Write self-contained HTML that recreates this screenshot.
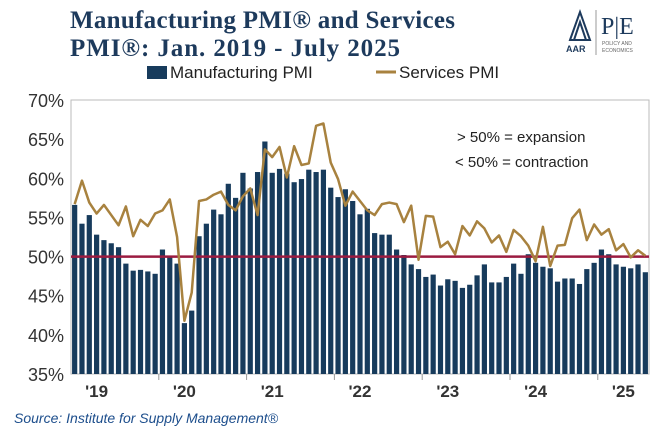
<!DOCTYPE html>
<html><head><meta charset="utf-8"><style>
body{margin:0;width:660px;height:435px;background:#fff;overflow:hidden;font-family:"Liberation Sans",sans-serif}
svg{position:absolute;left:0;top:0}
</style></head><body>
<svg width="660" height="435">
<text x="70" y="28" font-family="Liberation Serif,serif" font-weight="bold" font-size="25" fill="#1d3a5c" textLength="385">Manufacturing PMI® and Services</text>
<text x="70" y="56" font-family="Liberation Serif,serif" font-weight="bold" font-size="25" fill="#1d3a5c" textLength="330">PMI®: Jan. 2019 - July 2025</text>
<g>
<path d="M570 40 L580 12 L590 40 Z M574 40 L580 22 L586 40" fill="none" stroke="#1d3a5c" stroke-width="2"/>
<text x="566" y="52" font-size="9" font-weight="bold" fill="#1d3a5c">AAR</text>
<line x1="596" y1="10" x2="596" y2="55" stroke="#999"/>
<text x="601" y="34" font-family="Liberation Serif,serif" font-size="24" fill="#1d3a5c">P|E</text>
<text x="602" y="45" font-size="5" fill="#666">POLICY AND</text>
<text x="602" y="52" font-size="5" fill="#666">ECONOMICS</text>
</g>
<g>
<rect x="147" y="66" width="20" height="13" fill="#173b5c"/>
<text x="170" y="78" font-size="17" fill="#222">Manufacturing PMI</text>
<line x1="376" y1="72" x2="396" y2="72" stroke="#a8823f" stroke-width="3"/>
<text x="399" y="78" font-size="17" fill="#222">Services PMI</text>
</g>
<rect x="71" y="100" width="578" height="274" fill="none" stroke="#bbb"/>
<g id="yaxis"></g><g id="bars"></g><g id="ref"></g><g id="line"></g><g id="xaxis"></g>
<text x="457" y="142" font-size="15" fill="#222">&gt; 50% = expansion</text>
<text x="455" y="167" font-size="15" fill="#222">&lt; 50% = contraction</text>
<text x="14" y="423" font-size="14" font-style="italic" fill="#1d4e8c">Source: Institute for Supply Management®</text>
</svg>
<script>
const yTicks=[35,40,45,50,55,60,65,70];
const yearLabels=["'19","'20","'21","'22","'23","'24","'25"];
const manufacturing=[56.6,54.2,55.3,52.8,52.1,51.7,51.2,49.1,48.2,48.3,48.1,47.8,
50.9,50.1,49.1,41.5,43.1,52.6,54.2,56.0,55.4,59.3,57.5,60.7,
58.7,60.8,64.7,60.7,61.2,60.6,59.5,59.9,61.1,60.8,61.1,58.8,
57.6,58.6,57.1,55.4,56.1,53.0,52.8,52.8,50.9,50.2,49.0,48.4,
47.4,47.7,46.3,47.1,46.9,46.0,46.4,47.6,49.0,46.7,46.7,47.4,
49.1,47.8,50.3,49.2,48.7,48.5,46.8,47.2,47.2,46.5,48.4,49.2,
50.9,50.3,49.0,48.7,48.5,49.0,48.0];
const services=[56.7,59.7,56.9,55.5,56.6,55.3,54.0,56.4,52.6,54.7,53.9,55.5,
55.9,57.3,52.5,41.8,45.4,57.1,57.3,57.9,58.3,56.6,55.9,57.7,
58.7,55.3,63.7,62.7,64.0,60.1,64.1,61.7,61.9,66.7,67.0,62.0,
59.9,56.5,58.3,57.1,55.9,55.3,56.7,56.9,56.7,54.4,56.5,49.6,
55.2,55.1,51.2,51.9,50.3,53.9,52.7,54.5,53.6,51.8,52.7,50.6,
53.4,52.6,51.4,49.4,53.8,48.8,51.4,51.5,54.9,56.0,52.1,54.1,
52.8,53.5,50.8,51.6,49.9,50.8,50.1];
const NS="http://www.w3.org/2000/svg";
const x0=71,x1=649,yTop=100,yBot=374,n=manufacturing.length,step=(x1-x0)/n;
function y(v){return yBot-(v-35)/(70-35)*(yBot-yTop);}
function xc(i){return x0+step*(i+0.5);}
function mk(t,a,p){const e=document.createElementNS(NS,t);for(const k in a)e.setAttribute(k,a[k]);document.getElementById(p).appendChild(e);return e;}
yTicks.forEach(v=>{
 const t=mk('text',{x:64,y:y(v)+7,'text-anchor':'end','font-size':18,fill:'#333'},'yaxis');t.textContent=v+'%';
 
 
});
manufacturing.forEach((v,i)=>{
 const r=mk('rect',{x:xc(i)-2.6,y:y(v),width:5.2,height:yBot-y(v),fill:'#173b5c'},'bars');
 
 
});
const rl=mk('line',{x1:x0,x2:x1,y1:y(50),y2:y(50),stroke:'#9b1b40','stroke-width':2.5},'ref');


const pl=mk('polyline',{points:services.map((v,i)=>xc(i)+','+y(v)).join(' '),fill:'none',stroke:'#a8823f','stroke-width':2.5,'stroke-linejoin':'round'},'line');


yearLabels.forEach((l,k)=>{
 if(k>0){const tk=mk('line',{x1:x0+step*12*k,x2:x0+step*12*k,y1:yBot,y2:yBot+6,stroke:'#999'},'xaxis');
 
 }
 const px=Math.min(x0+step*(12*k+3.5),636);
 const t=mk('text',{x:px,y:397,'text-anchor':'middle','font-size':17,'font-weight':'bold',fill:'#333'},'xaxis');t.textContent=l;
 
 
});
</script>
</body></html>
